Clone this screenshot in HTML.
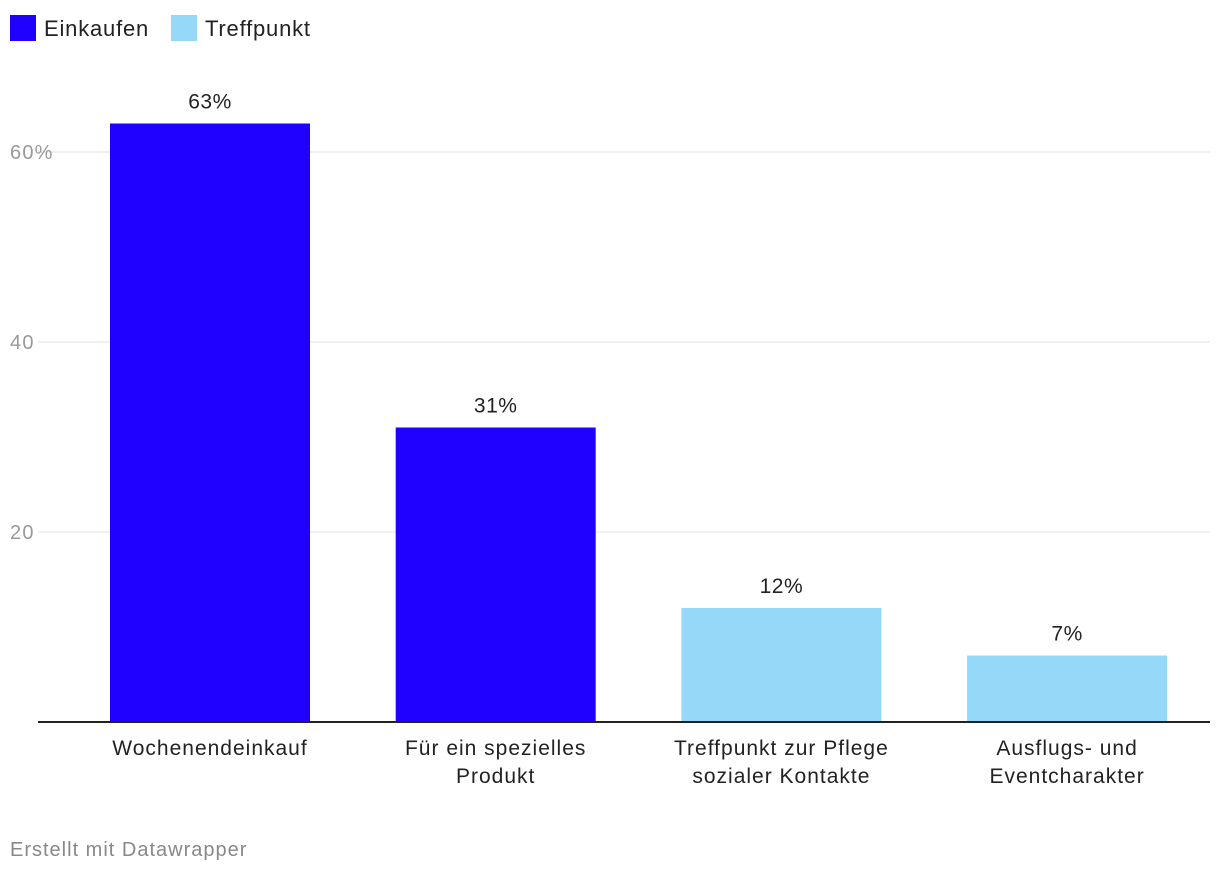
<!DOCTYPE html>
<html><head><meta charset="utf-8"><style>
body{margin:0;background:#fff;font-family:"Liberation Sans",sans-serif;}
</style></head><body>
<svg width="1220" height="872" style="display:block">
<g>
<rect x="10" y="15" width="26" height="26" fill="#2000ff"/>
<text x="44" y="36" font-size="22" letter-spacing="0.8" fill="#222">Einkaufen</text>
<rect x="171" y="15" width="26" height="26" fill="#96d8f8"/>
<text x="205" y="36" font-size="22" letter-spacing="0.8" fill="#222">Treffpunkt</text>
</g>
<g id="grid"></g><g id="bars"></g>
<text x="10" y="856" font-size="20" letter-spacing="1" fill="#888">Erstellt mit Datawrapper</text>
</svg>
<script>
const categories=[["Wochenendeinkauf"],["Für ein spezielles","Produkt"],["Treffpunkt zur Pflege","sozialer Kontakte"],["Ausflugs- und","Eventcharakter"]];
const values=[63,31,12,7];
const groups=["Einkaufen","Einkaufen","Treffpunkt","Treffpunkt"];
const ticks=[20,40,60];
const tickLabels=["20","40","60%"];
const NS="http://www.w3.org/2000/svg";
const y=v=>722-v*9.5;
const x=i=>110+i*285.7;
const colors={Einkaufen:"#2000ff",Treffpunkt:"#96d8f8"};
function mk(t,a,p,txt){const e=document.createElementNS(NS,t);for(const k in a)e.setAttribute(k,a[k]);if(txt!=null)e.textContent=txt;p.appendChild(e);return e;}
const g=document.getElementById("grid"),b=document.getElementById("bars");
ticks.forEach((t,i)=>{
const l=mk("line",{x1:38,x2:1210,y1:y(t),y2:y(t),stroke:"#e2e2e2","stroke-width":1},g);


const tx=mk("text",{x:10,y:y(t)+7,"font-size":20,"letter-spacing":1.2,fill:"#999"},g,tickLabels[i]);


});
values.forEach((v,i)=>{
const r=mk("rect",{x:x(i),y:y(v),width:200,height:722-y(v),fill:colors[groups[i]]},b);


const vl=mk("text",{x:x(i)+100,y:y(v)-15,"font-size":21,"letter-spacing":0.5,fill:"#222","text-anchor":"middle"},b,v+"%");


categories[i].forEach((s,j)=>{
const c=mk("text",{x:x(i)+100,y:755+j*28,"font-size":21,"letter-spacing":1,fill:"#222","text-anchor":"middle"},b,s);


});
});
const ax=mk("line",{x1:38,x2:1210,y1:722,y2:722,stroke:"#222","stroke-width":2},b);


</script>
</body></html>
